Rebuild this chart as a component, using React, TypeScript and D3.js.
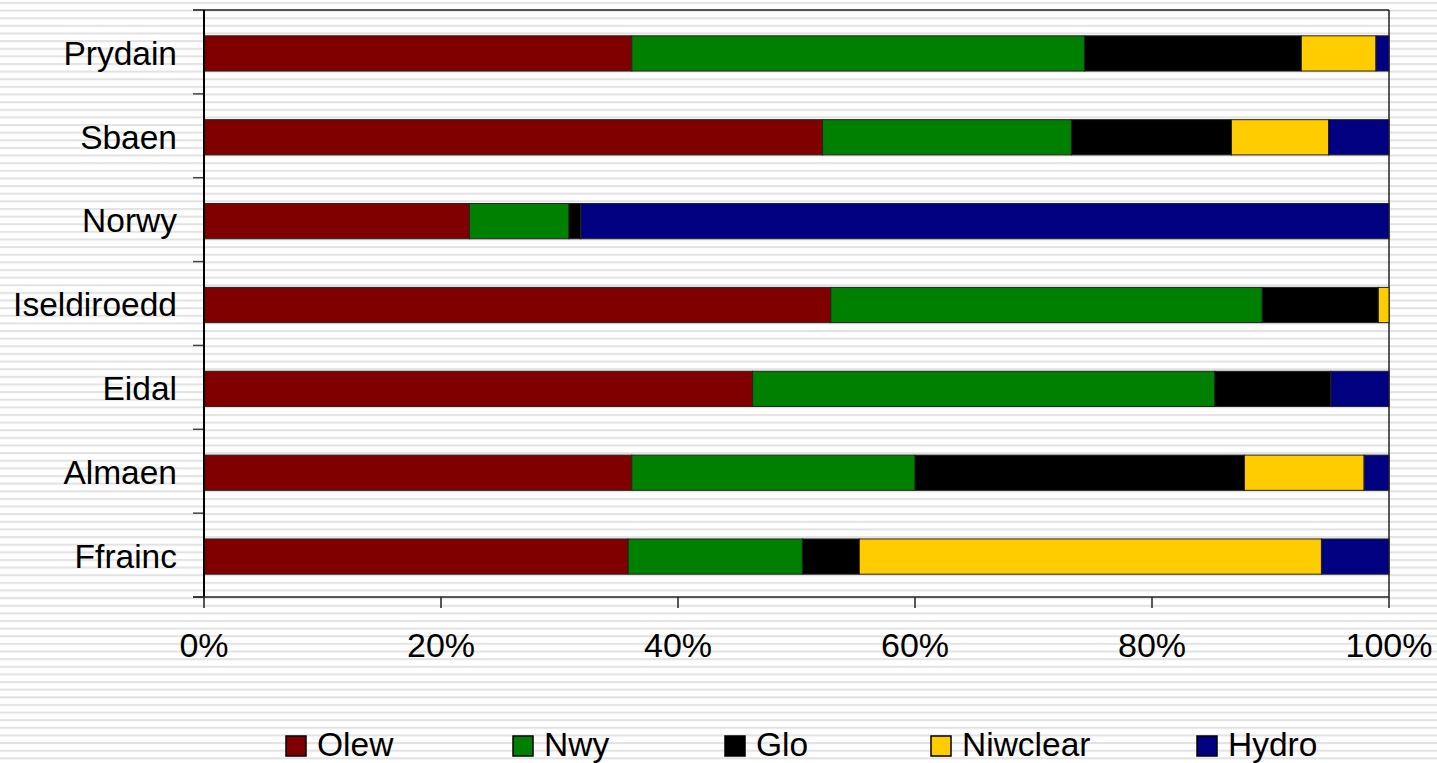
import React, { useEffect, useRef } from "react";
import * as d3 from "d3";

const countries = ["Prydain", "Sbaen", "Norwy", "Iseldiroedd", "Eidal", "Almaen", "Ffrainc"];
const fuels = ["Olew", "Nwy", "Glo", "Niwclear", "Hydro"];
const fuelColors = ["#800000", "#008000", "#000000", "#FFCC00", "#000080"];

// percentage share per country, same order as countries
const olew = [36.1, 52.2, 22.4, 52.9, 46.3, 36.1, 35.8];
const nwy = [38.2, 21.0, 8.4, 36.4, 39.0, 23.9, 14.7];
const glo = [18.3, 13.5, 1.0, 9.8, 9.8, 27.8, 4.8];
const niwclear = [6.3, 8.2, 0, 0.9, 0, 10.1, 39.0];
const hydro = [1.1, 5.1, 68.2, 0, 4.9, 2.1, 5.7];

const xTicks = [0, 20, 40, 60, 80, 100];

const W = 1437;
const H = 763;

const App = () => {
  const svgRef = useRef(null);

  useEffect(() => {
    const svg = d3.select(svgRef.current);
    svg.selectAll("*").remove();

    const font = "'Liberation Sans', Arial, sans-serif";
    const margin = { top: 10, left: 204, right: 48, bottom: 166 };
    const innerW = W - margin.left - margin.right;
    const innerH = H - margin.top - margin.bottom;

    // striped background
    const defs = svg.append("defs");
    const pat = defs
      .append("pattern")
      .attr("id", "stripes")
      .attr("patternUnits", "userSpaceOnUse")
      .attr("width", 10)
      .attr("height", 7.63);
    pat.append("rect").attr("width", 10).attr("height", 7.63).attr("fill", "#ffffff");
    pat.append("rect").attr("y", 2).attr("width", 10).attr("height", 2).attr("fill", "#e2e2e2");
    svg.append("rect").attr("width", W).attr("height", H).attr("fill", "url(#stripes)");

    const rows = countries.map((c, i) => {
      const vals = [olew[i], nwy[i], glo[i], niwclear[i], hydro[i]];
      const total = d3.sum(vals);
      const obj: any = { country: c };
      fuels.forEach((f, j) => (obj[f] = (vals[j] / total) * 100));
      return obj;
    });

    const stack = d3.stack().keys(fuels)(rows);

    const x = d3.scaleLinear().domain([0, 100]).range([0, innerW]);
    const y = d3
      .scaleBand()
      .domain(countries)
      .range([0, innerH])
      .paddingInner(0.58)
      .paddingOuter(0.29);

    const g = svg.append("g").attr("transform", `translate(${margin.left},${margin.top})`);

    // plot border
    g.append("line").attr("x1", -11).attr("x2", innerW).attr("y1", 0).attr("y2", 0).attr("stroke", "#222").attr("stroke-width", 1.5);
    g.append("line").attr("x1", innerW).attr("x2", innerW).attr("y1", 0).attr("y2", innerH).attr("stroke", "#222").attr("stroke-width", 1.5);

    // bars (sit slightly below the band centre, as in the original)
    const barsG = g.append("g").attr("transform", "translate(0,1.5)");
    stack.forEach((layer, k) => {
      barsG
        .append("g")
        .selectAll("rect")
        .data(layer.filter((d) => d[1] - d[0] > 0.001))
        .join("rect")
        .attr("x", (d) => x(d[0]))
        .attr("y", (d) => y(d.data.country))
        .attr("width", (d) => x(d[1]) - x(d[0]))
        .attr("height", y.bandwidth())
        .attr("fill", fuelColors[k])
        .attr("stroke", "#222")
        .attr("stroke-width", 1);
    });

    // category ticks at band boundaries
    const step = y.step();
    const bounds = d3.range(countries.length + 1).map((i) => i * step);
    g.selectAll(".ytick")
      .data(bounds)
      .join("line")
      .attr("x1", -11)
      .attr("x2", 0)
      .attr("y1", (d) => d)
      .attr("y2", (d) => d)
      .attr("stroke", "#444")
      .attr("stroke-width", 1.5);

    // x ticks
    g.selectAll(".xtick")
      .data(xTicks)
      .join("line")
      .attr("x1", (d) => x(d))
      .attr("x2", (d) => x(d))
      .attr("y1", innerH)
      .attr("y2", innerH + 11)
      .attr("stroke", "#222")
      .attr("stroke-width", 1.5);

    // axis lines
    g.append("line").attr("x1", 0).attr("x2", 0).attr("y1", 0).attr("y2", innerH).attr("stroke", "#000").attr("stroke-width", 2);
    g.append("line").attr("x1", -11).attr("x2", innerW).attr("y1", innerH).attr("y2", innerH).attr("stroke", "#222").attr("stroke-width", 1.5);

    // labels
    g.selectAll(".ylab")
      .data(countries)
      .join("text")
      .attr("x", -27)
      .attr("y", (d) => y(d) + y.bandwidth() / 2 + 1)
      .attr("dy", "0.35em")
      .attr("text-anchor", "end")
      .attr("font-family", font)
      .attr("font-size", 33.5)
      .attr("fill", "#000")
      .text((d) => d);

    g.selectAll(".xlab")
      .data(xTicks)
      .join("text")
      .attr("x", (d) => x(d))
      .attr("y", innerH + 60)
      .attr("text-anchor", "middle")
      .attr("font-family", font)
      .attr("font-size", 34)
      .attr("fill", "#000")
      .text((d) => `${d}%`);

    // legend
    const legendX = [286, 513, 725, 931, 1197];
    const lg = svg.append("g");
    fuels.forEach((f, i) => {
      lg.append("rect")
        .attr("x", legendX[i])
        .attr("y", 736)
        .attr("width", 20)
        .attr("height", 20)
        .attr("fill", fuelColors[i])
        .attr("stroke", "#000")
        .attr("stroke-width", 1.5);
      lg.append("text")
        .attr("x", legendX[i] + 31)
        .attr("y", 756)
        .attr("font-family", font)
        .attr("font-size", 33.5)
        .attr("fill", "#000")
        .text(f);
    });
  }, []);

  return (
    <svg
      ref={svgRef}
      width={W}
      height={H}
      style={{ position: "absolute", left: 0, top: 0, display: "block" }}
    ></svg>
  );
};

export default App;
